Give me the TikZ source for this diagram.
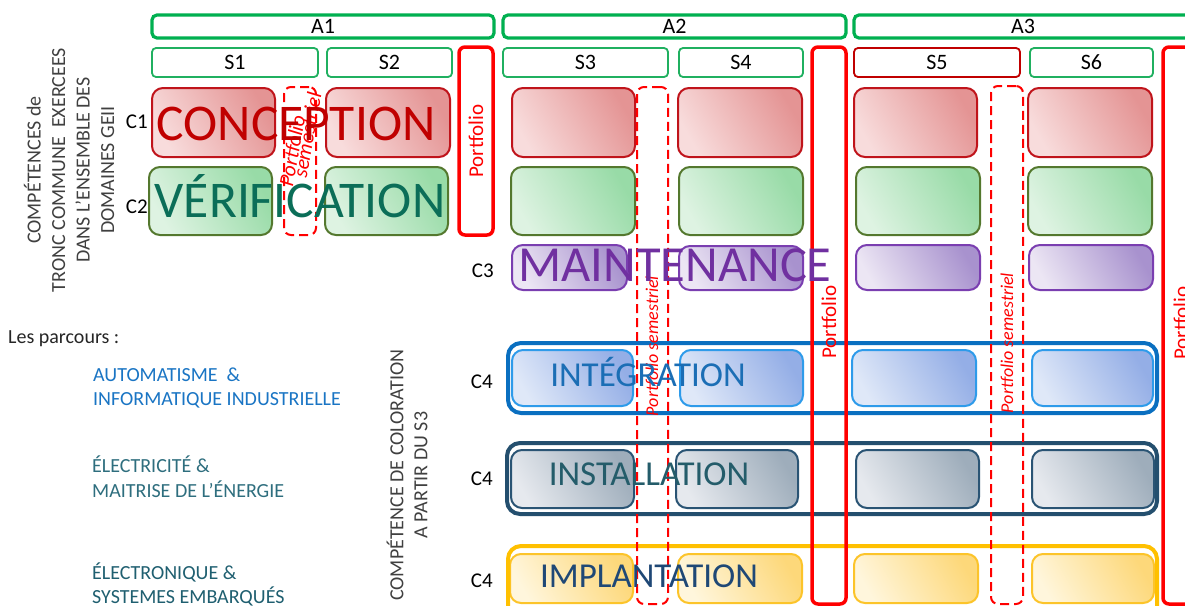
\documentclass[tikz,border=0pt]{standalone}
\usepackage{fontspec}
\setmainfont{Carlito}
\definecolor{hgreen}{HTML}{00B050}
\definecolor{sgreen}{HTML}{20B060}
\definecolor{pred}{HTML}{FF0000}
\definecolor{dred}{HTML}{C00000}
\definecolor{c1b}{HTML}{C0141B}\definecolor{c1l}{HTML}{F8DCDC}\definecolor{c1d}{HTML}{E49494}
\definecolor{c2b}{HTML}{54782E}\definecolor{c2l}{HTML}{DEF3E2}\definecolor{c2d}{HTML}{98DBA7}
\definecolor{c3b}{HTML}{7A3EB0}\definecolor{c3l}{HTML}{ECE6F4}\definecolor{c3d}{HTML}{A892CE}
\definecolor{c4ab}{HTML}{2E9BEA}\definecolor{c4al}{HTML}{DFE8F8}\definecolor{c4ad}{HTML}{94AEE6}\definecolor{c4ao}{HTML}{0A6FC0}
\definecolor{c4bb}{HTML}{2A5474}\definecolor{c4bl}{HTML}{E6E9EE}\definecolor{c4bd}{HTML}{9EADBB}\definecolor{c4bo}{HTML}{244F6E}
\definecolor{c4cb}{HTML}{FCC42A}\definecolor{c4cl}{HTML}{FFF6DC}\definecolor{c4cd}{HTML}{FDD87A}\definecolor{c4co}{HTML}{FFC000}
\definecolor{tconc}{HTML}{C00000}
\definecolor{tverif}{HTML}{0B6E58}
\definecolor{tmaint}{HTML}{7030A0}
\definecolor{tinteg}{HTML}{1B6EB5}
\definecolor{tinst}{HTML}{245C6A}
\definecolor{timpl}{HTML}{1F4876}
\definecolor{tgray}{HTML}{404040}
\definecolor{pauto}{HTML}{1A75C4}
\definecolor{pelec}{HTML}{2E6E7E}
\definecolor{ptron}{HTML}{1F5F70}
\tikzset{
  hdr/.style={draw=hgreen, line width=3.2pt, rounded corners=5pt, font=\fontsize{22}{26}\selectfont},
  sem/.style={draw=sgreen, line width=1.8pt, rounded corners=4pt, font=\fontsize{22}{26}\selectfont},
  semr/.style={sem, draw=dred},
  pfbox/.style={draw=pred, line width=3.5pt, rounded corners=6pt},
  pfdash/.style={draw=pred, line width=2pt, dash pattern=on 9pt off 5pt, rounded corners=7pt},
  cbox/.style={line width=2pt, rounded corners=11pt},
  cc1/.style={cbox, draw=c1b, left color=c1l, right color=c1d, shading angle=120},
  cc2/.style={cbox, draw=c2b, left color=c2l, right color=c2d, shading angle=120},
  cc3/.style={cbox, draw=c3b, left color=c3l, right color=c3d, shading angle=120},
  cc4a/.style={cbox, draw=c4ab, left color=c4al, right color=c4ad, shading angle=120},
  cc4b/.style={cbox, draw=c4bb, left color=c4bl, right color=c4bd, shading angle=120},
  cc4c/.style={cbox, draw=c4cb, left color=c4cl, right color=c4cd, shading angle=120},
  outer/.style={line width=4pt, rounded corners=13pt},
  pftext/.style={text=pred, font=\fontsize{21}{24}\selectfont, inner sep=0pt},
  pfit/.style={text=pred, font=\fontsize{18}{18}\itshape, inner sep=0pt},
  clab/.style={anchor=base east, font=\fontsize{21}{24}\selectfont, inner sep=0pt},
  big/.style={anchor=base, inner sep=0pt, font=\fontsize{51.5}{55}\selectfont},
  mid/.style={anchor=base, inner sep=0pt, font=\fontsize{35}{40}\selectfont},
  ptxt/.style={anchor=base west, inner sep=0pt, font=\fontsize{20}{24}\selectfont},
}
\newcommand\bx[7]{\node[#6, inner sep=0pt, outer sep=0pt, minimum width={(#4-#2)*1pt}, minimum height={(#5-#3)*1pt}] (#1) at ({(#2+#4)/2},{(#3+#5)/2}) {#7};}
\begin{document}
\begin{tikzpicture}[x=1pt,y=-1pt]
\useasboundingbox (0,0) rectangle (1185,605);
\clip (0,0) rectangle (1185,605);
\fill[white] (0,0) rectangle (1185,605);
% years
\bx{A1}{152}{15}{494}{38}{hdr}{A1}
\bx{A2}{503}{15}{846}{38}{hdr}{A2}
\bx{A3}{854}{15}{1192}{38}{hdr}{A3}
% semesters
\bx{S1}{152}{48}{318}{77}{sem}{S1}
\bx{S2}{327}{48}{452}{77}{sem}{S2}
\bx{S3}{503}{48}{668}{77}{sem}{S3}
\bx{S4}{679}{48}{803}{77}{sem}{S4}
\bx{S5}{854}{48}{1020}{77}{semr}{S5}
\bx{S6}{1030}{48}{1153}{77}{sem}{S6}
% C1
\bx{c1a}{152}{88}{275}{157}{cc1}{}
\bx{c1b}{326}{88}{450}{157}{cc1}{}
\bx{c1c}{512}{88}{635}{157}{cc1}{}
\bx{c1d}{678}{88}{802}{157}{cc1}{}
\bx{c1e}{854}{88}{977}{157}{cc1}{}
\bx{c1f}{1028}{88}{1152}{157}{cc1}{}
% C2
\bx{c2a}{149}{167}{272}{235}{cc2}{}
\bx{c2b}{325}{167}{448}{235}{cc2}{}
\bx{c2c}{511}{167}{635}{235}{cc2}{}
\bx{c2d}{679}{167}{803}{235}{cc2}{}
\bx{c2e}{856}{167}{980}{235}{cc2}{}
\bx{c2f}{1028}{167}{1152}{235}{cc2}{}
% C3
\bx{c3c}{512}{245}{627}{290}{cc3}{}
\bx{c3d}{679}{246}{803}{290}{cc3}{}
\bx{c3e}{856}{245}{980}{290}{cc3}{}
\bx{c3f}{1029}{245}{1153}{290}{cc3}{}
% C4 integration
\bx{c4ac}{512}{350}{633}{406}{cc4a}{}
\bx{c4ad}{680}{350}{803}{406}{cc4a}{}
\bx{c4ae}{852}{350}{976}{406}{cc4a}{}
\bx{c4af}{1032}{350}{1153}{406}{cc4a}{}
\bx{c4ao}{508}{343}{1157}{413}{outer, draw=c4ao}{}
% C4 installation
\bx{c4bc}{511}{450}{634}{508}{cc4b}{}
\bx{c4bd}{676}{450}{798}{508}{cc4b}{}
\bx{c4be}{856}{450}{979}{508}{cc4b}{}
\bx{c4bf}{1032}{450}{1154}{508}{cc4b}{}
\bx{c4bo}{507}{443}{1157}{514}{outer, draw=c4bo}{}
% C4 implantation
\bx{c4cc}{510}{554}{633}{603}{cc4c}{}
\bx{c4cd}{678}{554}{802}{603}{cc4c}{}
\bx{c4ce}{854}{554}{978}{603}{cc4c}{}
\bx{c4cf}{1032}{554}{1154}{603}{cc4c}{}
\bx{c4co}{508}{546}{1157}{625}{outer, draw=c4co}{}
% semester portfolios (dashed)
\bx{D1}{284}{87}{316}{235}{pfdash}{}
\bx{D2}{637}{87}{668}{604}{pfdash}{}
\bx{D3}{991}{86}{1023}{604}{pfdash}{}
% year portfolios
\bx{P1}{459}{47}{493}{235}{pfbox}{}
\bx{P2}{812}{47}{846}{604}{pfbox}{}
\bx{P3}{1163}{47}{1215}{604}{pfbox}{}
% portfolio labels
\node[pftext, rotate=90] (P1t) at (476,141) {Portfolio};
\node[pftext, rotate=90] (P2t) at (829,322) {Portfolio};
\node[pftext, rotate=90] (P3t) at (1181,323) {Portfolio};
\node[pfit, rotate=80, font=\fontsize{21}{21}\itshape] (D1t1) at (292,151) {Portfolio};
\node[pfit, rotate=80, font=\fontsize{21}{21}\itshape] (D1t2) at (307,135) {semestriel};
\node[pfit, rotate=90] (D2t) at (652,346) {Portfolio semestriel};
\node[pfit, rotate=90] (D3t) at (1007,343) {Portfolio semestriel};
% competence labels
\node[clab] (C1) at (148,128) {C1};
\node[clab] (C2) at (148,213) {C2};
\node[clab] (C3) at (494,277) {C3};
\node[clab] (C4a) at (493,388) {C4};
\node[clab] (C4b) at (493,485) {C4};
\node[clab] (C4c) at (493,587) {C4};
% big words
\node[big, text=tconc] (conc) at (296,140) {CONCEPTION};
\node[big, text=tverif] (verif) at (300,217) {VÉRIFICATION};
\node[big, text=tmaint, font=\fontsize{50.5}{55}\selectfont] (maint) at (675,281) {MAINTENANCE};
\node[mid, text=tinteg] (integ) at (648,386) {INTÉGRATION};
\node[mid, text=tinst] (inst) at (649,485) {INSTALLATION};
\node[mid, text=timpl] (impl) at (649,587) {IMPLANTATION};
% left texts
\node[rotate=90, align=center, text=tgray, inner sep=0pt, font=\fontsize{20}{24.5}\selectfont] (tronc) at (69,170)
  {COMPÉTENCES de\\TRONC COMMUNE~ EXERCEES\\DANS L’ENSEMBLE DES\\DOMAINES GEII};
\node[rotate=90, align=center, text=tgray, inner sep=0pt, font=\fontsize{20}{24}\selectfont] (color) at (407,475)
  {COMPÉTENCE DE COLORATION\\A PARTIR DU S3};
\node[ptxt, text=black!85] (parc) at (8,343) {Les parcours :};
\node[ptxt, text=pauto] (au1) at (93,381.5) {AUTOMATISME~ \&};
\node[ptxt, text=pauto] (au2) at (93,405.5) {INFORMATIQUE INDUSTRIELLE};
\node[ptxt, text=pelec] (el1) at (92,472.5) {ÉLECTRICITÉ \&};
\node[ptxt, text=pelec] (el2) at (92,497) {MAITRISE DE L’ÉNERGIE};
\node[ptxt, text=ptron] (et1) at (92,579.5) {ÉLECTRONIQUE \&};
\node[ptxt, text=ptron] (et2) at (92,603.5) {SYSTEMES EMBARQUÉS};
\end{tikzpicture}
\end{document}
